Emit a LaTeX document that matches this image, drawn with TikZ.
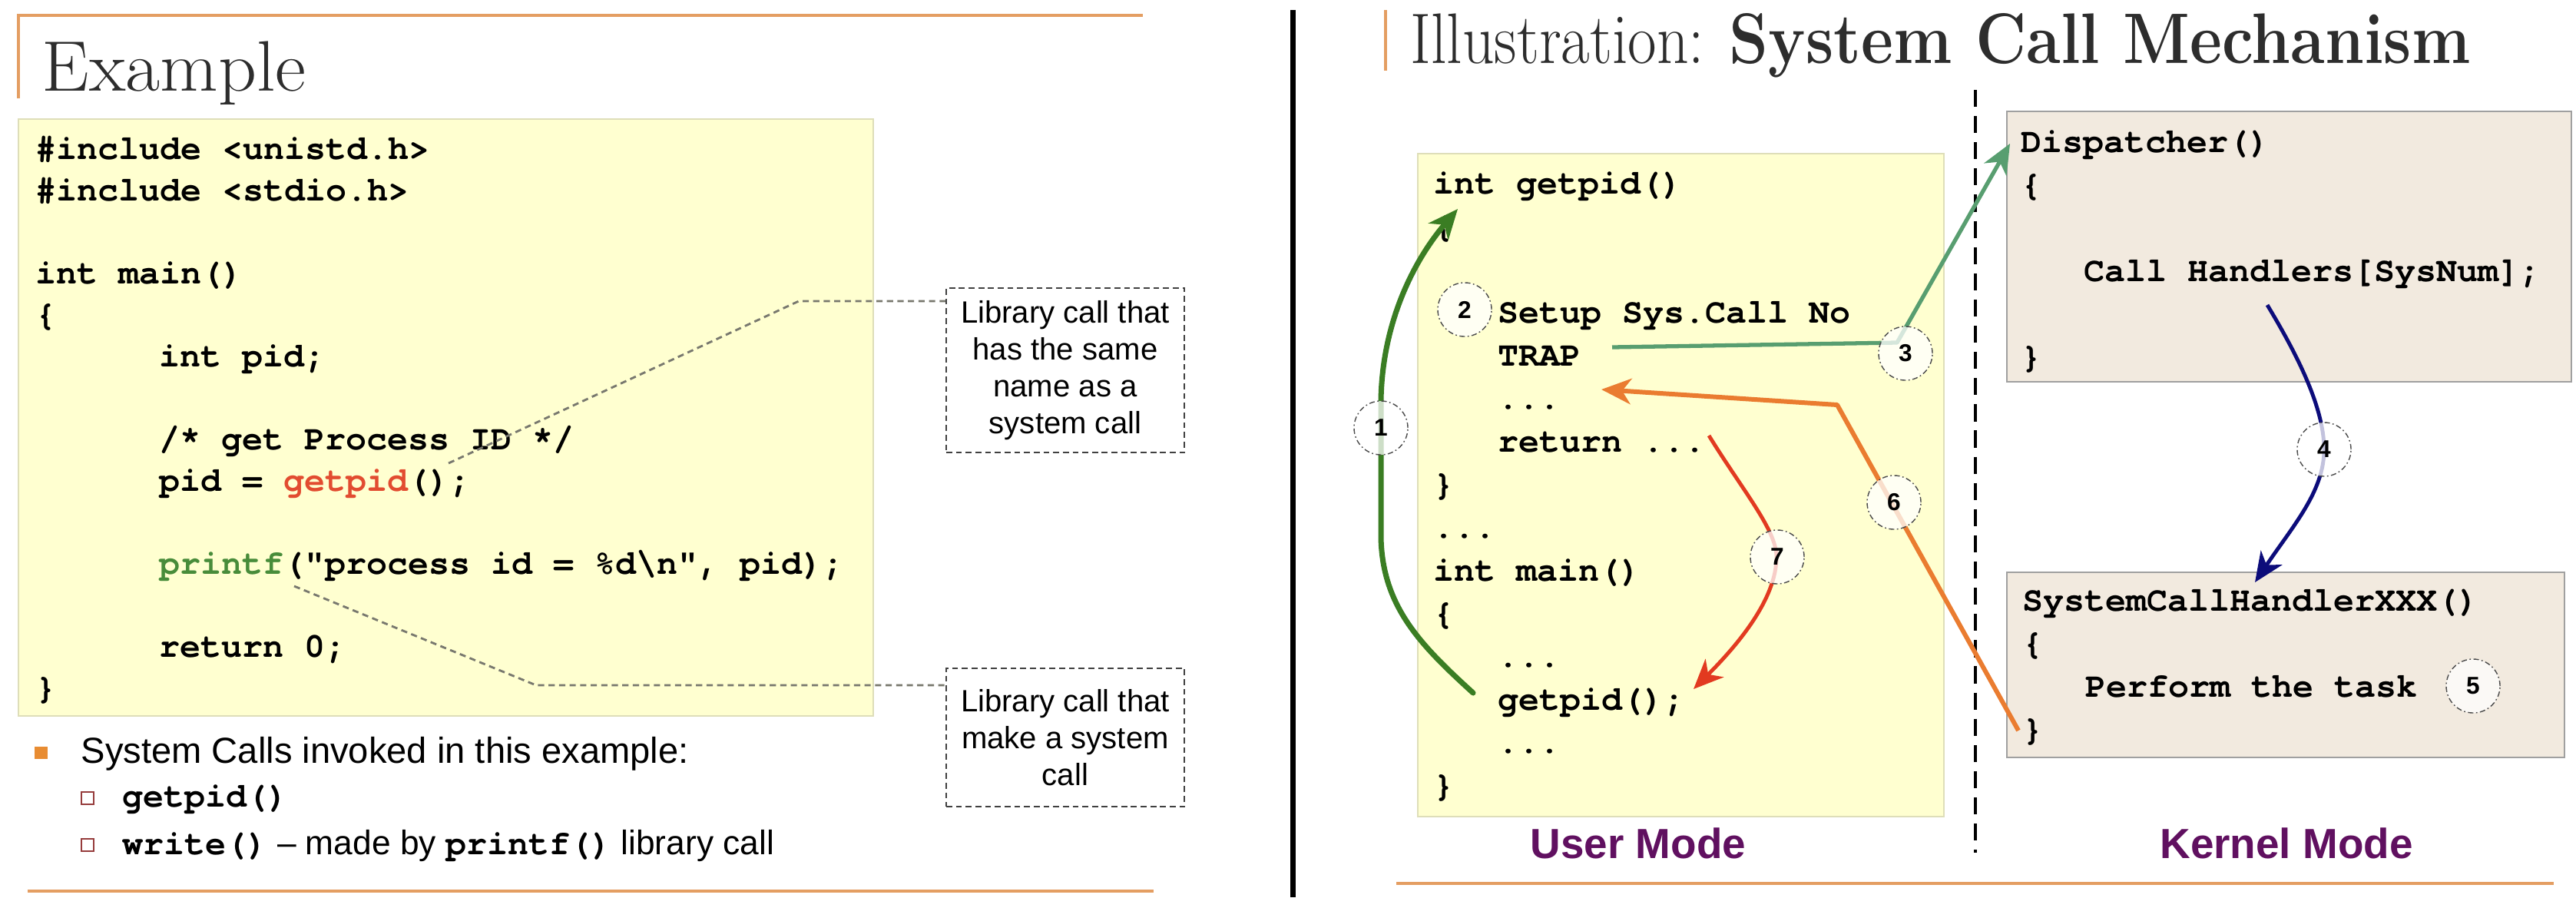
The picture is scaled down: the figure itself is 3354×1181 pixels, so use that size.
\documentclass[tikz,border=0pt]{standalone}
\usepackage{fontspec}
\newfontfamily\arialf{Liberation Sans}
\newfontfamily\courf{texgyrecursor}[Extension=.otf, UprightFont=*-regular, BoldFont=*-bold]
\usetikzlibrary{arrows.meta,calc}
\definecolor{titlegray}{RGB}{45,45,45}
\definecolor{sepor}{RGB}{228,158,98}
\definecolor{yfill}{RGB}{255,255,208}
\definecolor{ydraw}{RGB}{222,222,185}
\definecolor{bfill}{RGB}{242,234,223}
\definecolor{bdraw}{RGB}{160,160,160}
\definecolor{getred}{RGB}{226,76,48}
\definecolor{prgreen}{RGB}{72,140,58}
\definecolor{aonegreen}{RGB}{58,125,35}
\definecolor{athreegreen}{RGB}{88,158,112}
\definecolor{afournavy}{RGB}{12,12,122}
\definecolor{asixorange}{RGB}{234,124,48}
\definecolor{asevenred}{RGB}{226,58,32}
\definecolor{modepurple}{RGB}{96,16,96}
\definecolor{bulor}{RGB}{232,140,50}
\definecolor{subbul}{RGB}{150,60,60}
\definecolor{leadgray}{RGB}{120,120,110}
\newcommand\codefont{\courf\bfseries\fontsize{12.8pt}{15pt}\selectfont}
\newcommand\sansbul{\arialf\fontsize{13.4pt}{15pt}\selectfont}
\newcommand\sanssub{\arialf\fontsize{12.6pt}{15pt}\selectfont}
\begin{document}
\begin{tikzpicture}[x=0.01cm,y=-0.01cm,
  code/.style={anchor=base west, inner sep=0pt, font=\codefont},
  ybox/.style={draw=ydraw, fill=yfill, line width=0.5pt, inner sep=0pt},
  bbox/.style={draw=bdraw, fill=bfill, line width=0.6pt, inner sep=0pt},
  callout/.style={draw=black!75, dashed, dash pattern=on 2.2pt off 1.4pt, line width=0.55pt,
     align=center, inner sep=0pt, font=\arialf\fontsize{11.4pt}{13.66pt}\selectfont},
  leader/.style={draw=leadgray, line width=0.8pt, dash pattern=on 2.3pt off 1.6pt},
  sep/.style={draw=sepor, line width=1.1pt},
  marker/.style={circle, draw=black!70, line width=0.4pt,
     dash pattern=on 2pt off 1pt on 0.5pt off 1pt, fill=white, fill opacity=0.75,
     text opacity=1, minimum size=0.7cm, inner sep=0pt,
     font=\arialf\bfseries\fontsize{9pt}{10pt}\selectfont},
  tip/.style={-{Stealth[length=11pt,width=9.5pt,inset=3.3pt]}},
  modelab/.style={font=\arialf\bfseries\fontsize{15.6pt}{18pt}\selectfont, text=modepurple, inner sep=0pt},
  titlefont/.style={anchor=base west, inner sep=0pt, text=titlegray, font=\fontsize{26.5pt}{30pt}\selectfont}
]
\useasboundingbox (0,0) rectangle (3354,1181);
\fill[white] (0,0) rectangle (3354,1181);

% ---------------- separators
\coordinate (tl1) at (24,20); \coordinate (tl2) at (1488,20); \coordinate (tl3) at (24,128);
\draw[sep] (tl3) -- (tl1) -- (tl2);
\coordinate (bl1) at (36,1160); \coordinate (bl2) at (1502,1160);
\draw[sep] (bl1) -- (bl2);
\coordinate (tr1) at (1804,13); \coordinate (tr2) at (1804,92);
\draw[sep] (tr1) -- (tr2);
\coordinate (br1) at (1818,1150); \coordinate (br2) at (3325,1150);
\draw[sep] (br1) -- (br2);
\coordinate (vb1) at (1683,13); \coordinate (vb2) at (1683,1168);
\draw[line width=2pt, black] (vb1) -- (vb2);
\coordinate (vd1) at (2572,117); \coordinate (vd2) at (2572,1110);
\draw[line width=1.4pt, black, dash pattern=on 6.3pt off 3.4pt] (vd1) -- (vd2);

% ---------------- titles
\node[titlefont] (extitle) at (54,118) {\scalebox{1.05}[1]{Example}};
\node[titlefont] (iltitle) at (1836,82) {\scalebox{0.875}[1]{Illustration: \textbf{System Call Mechanism}}};

% ---------------- left code box
\node[ybox, minimum width=11.13cm, minimum height=7.77cm] (lbox) at (580.5,543.5) {};
\node[code] (lc0) at (46,207) {\#include <unistd.h>};
\node[code] (lc1) at (46,261) {\#include <stdio.h>};
\node[code] (lc3) at (46,369) {int main()};
\node[code] (lc4) at (46,423) {\{};
\node[code] (lc5) at (207,477) {int pid;};
\node[code] (lc7) at (207,585) {/* get Process ID */};
\node[code] (lc8) at (207,639) {pid = \textcolor{getred}{getpid}();};
\node[code] (lc10) at (207,747) {\textcolor{prgreen}{printf}("process id = \%d\textbackslash n", pid);};
\node[code] (lc12) at (207,855) {return 0;};
\node[code] (lc13) at (46,909) {\}};

% ---------------- callouts
\node[callout, minimum width=3.1cm, minimum height=2.14cm] (call1) at (1387,482)
  {Library call that\\has the same\\name as a\\system call};
\node[callout, minimum width=3.1cm, minimum height=1.8cm] (call2) at (1387,960)
  {Library call that\\make a system\\call};
\coordinate (l1s) at (584,603); \coordinate (l1b) at (1040,392);
\draw[leader] (l1s) -- (l1b) -- (l1b -| call1.west);
\coordinate (l2s) at (383,763); \coordinate (l2b) at (698,892);
\draw[leader] (l2s) -- (l2b) -- (l2b -| call2.west);

% ---------------- bullets
\node[fill=bulor, minimum width=0.17cm, minimum height=0.16cm, inner sep=0pt] (b0) at (53.5,980) {};
\node[anchor=base west, inner sep=0pt, font=\sansbul] (bt0) at (105,993) {System Calls invoked in this example:};
\node[draw=subbul, fill=white, line width=0.5pt, minimum size=0.16cm, inner sep=0pt] (b1) at (114,1039) {};
\node[draw=subbul, fill=white, line width=0.5pt, minimum size=0.16cm, inner sep=0pt] (b2) at (114,1100) {};
\node[anchor=base west, inner sep=0pt, font=\codefont] (bt1) at (159,1050) {getpid()};
\node[anchor=base west, inner sep=0pt, font=\sanssub] (bt2) at (159,1112)
  {{\codefont write()} – made by {\codefont printf()} library call};

% ---------------- right: user box
\node[ybox, minimum width=6.85cm, minimum height=8.63cm] (ubox) at (2188.5,631.5) {};
\node[code] (uc0) at (1866,252) {int getpid()};
\node[code] (uc1) at (1866,308) {\{};
\node[code] (uc3) at (1950,420) {Setup Sys.Call No};
\node[code] (uc4) at (1950,476) {TRAP};
\node[code] (uc5) at (1950,532) {...};
\node[code] (uc6) at (1950,588) {return ...};
\node[code] (uc7) at (1866,644) {\}};
\node[code] (uc8) at (1866,700) {...};
\node[code] (uc9) at (1866,756) {int main()};
\node[code] (uc10) at (1866,812) {\{};
\node[code] (uc11) at (1950,868) {...};
\node[code] (uc12) at (1950,924) {getpid();};
\node[code] (uc13) at (1950,980) {...};
\node[code] (uc14) at (1866,1036) {\}};

% ---------------- kernel boxes
\node[bbox, minimum width=7.35cm, minimum height=3.52cm] (dbox) at (2980.5,321) {};
\node[code] (dc0) at (2631,198) {Dispatcher()};
\node[code] (dc1) at (2631,254) {\{};
\node[code] (dc3) at (2713,366) {Call Handlers[SysNum];};
\node[code] (dc5) at (2631,478) {\}};

\node[bbox, minimum width=7.26cm, minimum height=2.41cm] (hbox) at (2976,865.5) {};
\node[code] (hc0) at (2633,795) {SystemCallHandlerXXX()};
\node[code] (hc1) at (2633,851) {\{};
\node[code] (hc2) at (2715,907) {Perform the task};
\node[code] (hc3) at (2633,963) {\}};

% ---------------- mode labels
\node[modelab] (umode) at (2133,1098) {User Mode};
\node[modelab] (kmode) at (2977,1098) {Kernel Mode};

% ---------------- arrows
% 1
\coordinate (a1s) at (1918,902); \coordinate (a1m1) at (1798,700);
\coordinate (a1m2) at (1798,520); \coordinate (a1e) at (1898,272);
\draw[tip, aonegreen, line width=2pt, line cap=round] (a1s) .. controls (1850,840) and (1800,790) .. (a1m1)
   -- (a1m2) .. controls (1800,420) and (1840,340) .. (a1e);
% 3
\coordinate (a3s) at (2099,452); \coordinate (a3c) at (2470,446); \coordinate (a3e) at (2617,187);
\draw[tip, athreegreen, line width=1.5pt, line join=round] (a3s) -- (a3c) -- (a3e);
% 4
\coordinate (a4s) at (2952,397); \coordinate (a4m) at (3026,585); \coordinate (a4e) at (2936,758);
\draw[tip, afournavy, line width=1.4pt] (a4s) .. controls (2990,460) and (3026,530) .. (a4m)
   .. controls (3026,640) and (2985,685) .. (a4e);
% 6
\coordinate (a6s) at (2628,951); \coordinate (a6c) at (2392,527); \coordinate (a6e) at (2085,507);
\draw[tip, asixorange, line width=1.7pt, line join=round] (a6s) -- (a6c) -- (a6e);
% 7
\coordinate (a7s) at (2225,567); \coordinate (a7m) at (2313,725); \coordinate (a7e) at (2205,897);
\draw[tip, asevenred, line width=1.4pt] (a7s) .. controls (2270,640) and (2313,690) .. (a7m)
   .. controls (2313,780) and (2262,840) .. (a7e);

% ---------------- step markers
\node[marker] (m1) at (1798,557) {1};
\node[marker] (m2) at (1907,403) {2};
\node[marker] (m3) at (2481,460) {3};
\node[marker] (m4) at (3026,585) {4};
\node[marker] (m5) at (3220,893) {5};
\node[marker] (m6) at (2466,654) {6};
\node[marker] (m7) at (2314,725) {7};
\end{tikzpicture}
\end{document}
